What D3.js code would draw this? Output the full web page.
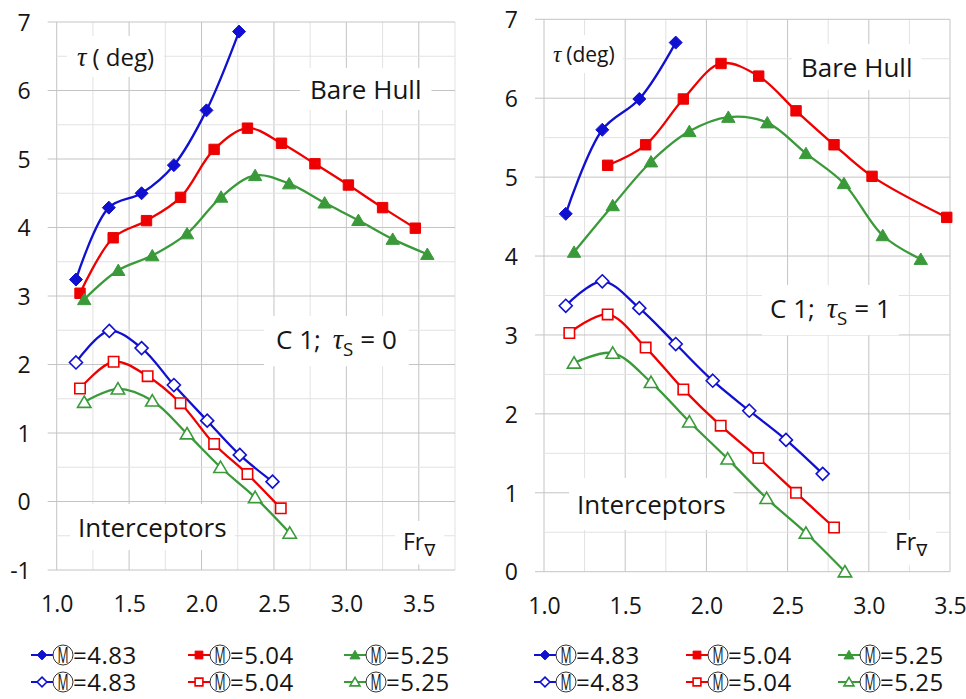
<!DOCTYPE html>
<html><head><meta charset="utf-8">
<script src="https://cdn.jsdelivr.net/npm/d3@7"></script>
<style>
html,body{margin:0;padding:0;background:#fff;}
svg{display:block;}
text{font-family:"Open Sans",Lato,sans-serif;fill:#151515;}
</style></head>
<body><svg id="c" width="966" height="699"></svg>
<script>
// ---------- data ----------
const machLabels = ["4.83", "5.04", "5.25"];
const xTickValues = [1.0, 1.5, 2.0, 2.5, 3.0, 3.5];
const leftYTicks = [-1, 0, 1, 2, 3, 4, 5, 6, 7];
const rightYTicks = [0, 1, 2, 3, 4, 5, 6, 7];

// Left panel (tau_S = 0)
const L_BH_483 = [[1.133,3.24],[1.36,4.29],[1.586,4.50],[1.809,4.91],[2.034,5.71],[2.259,6.86]];
const L_BH_504 = [[1.161,3.04],[1.39,3.85],[1.62,4.10],[1.855,4.44],[2.087,5.14],[2.317,5.45],[2.552,5.23],[2.783,4.93],[3.014,4.62],[3.25,4.29],[3.476,3.99]];
const L_BH_525 = [[1.19,2.95],[1.425,3.375],[1.66,3.59],[1.90,3.91],[2.135,4.445],[2.37,4.76],[2.605,4.64],[2.85,4.36],[3.083,4.105],[3.32,3.83],[3.559,3.61]];
const L_IN_483 = [[1.133,2.03],[1.363,2.49],[1.586,2.24],[1.809,1.70],[2.039,1.18],[2.264,0.68],[2.49,0.29]];
const L_IN_504 = [[1.161,1.65],[1.393,2.04],[1.628,1.83],[1.855,1.435],[2.087,0.84],[2.317,0.40],[2.547,-0.10]];
const L_IN_525 = [[1.19,1.45],[1.423,1.645],[1.66,1.47],[1.90,0.99],[2.131,0.50],[2.37,0.06],[2.609,-0.46]];

// Right panel (tau_S = 1)
const R_BH_483 = [[1.134,4.535],[1.359,5.60],[1.587,5.99],[1.811,6.705]];
const R_BH_504 = [[1.392,5.15],[1.626,5.41],[1.858,5.99],[2.09,6.44],[2.322,6.28],[2.552,5.84],[2.786,5.41],[3.02,5.01],[3.48,4.49]];
const R_BH_525 = [[1.185,4.05],[1.423,4.64],[1.659,5.195],[1.895,5.58],[2.135,5.76],[2.375,5.69],[2.613,5.30],[2.847,4.92],[3.086,4.26],[3.32,3.96]];
const R_IN_483 = [[1.134,3.37],[1.359,3.68],[1.587,3.34],[1.811,2.885],[2.039,2.42],[2.264,2.04],[2.49,1.67],[2.716,1.24]];
const R_IN_504 = [[1.156,3.025],[1.392,3.26],[1.626,2.84],[1.858,2.31],[2.088,1.85],[2.32,1.44],[2.552,1.00],[2.786,0.56]];
const R_IN_525 = [[1.185,2.645],[1.423,2.77],[1.659,2.40],[1.895,1.90],[2.131,1.43],[2.371,0.93],[2.613,0.49],[2.853,0.00]];

// ---------- styles ----------
const COLORS = ["#1010d0", "#ee0000", "#3a9a3a"];
const SHAPES = ["diamond", "square", "triangle"];

const svg = d3.select("#c");

function markerPath(shape, k) {
  k = k || 1;
  if (shape === "diamond") { const r = 6.5*k; return `M0,${-r}L${r},0L0,${r}L${-r},0Z`; }
  if (shape === "square") { const h = 5.2*k; return `M${-h},${-h}H${h}V${h}H${-h}Z`; }
  const w = 6.7*k, t = 6.2*k, b = 5.2*k;
  return `M0,${-t}L${w},${b}L${-w},${b}Z`;
}

function drawPanel(cfg) {
  const g = svg.append("g");
  const xs = d3.scaleLinear().domain(cfg.xDomain).range(cfg.xRange);
  const ys = d3.scaleLinear().domain(cfg.yDomain).range(cfg.yRange);
  const [x0, x1] = cfg.xRange, [yb, yt] = cfg.yRange;

  // vertical grid every 0.25
  const vx = d3.range(Math.round((cfg.xDomain[1]-cfg.xDomain[0])/0.25)+1).map(i => cfg.xDomain[0] + i*0.25);
  g.append("g").selectAll("line").data(vx).join("line")
    .attr("x1", d => xs(d)).attr("x2", d => xs(d)).attr("y1", yt).attr("y2", yb)
    .attr("stroke", (d,i) => i % 2 === 0 ? "#c4c4c4" : "#e2e2e2").attr("stroke-width", 1);
  // horizontal grid every 0.5
  const hy = d3.range(Math.round((cfg.yDomain[1]-cfg.yDomain[0])/0.5)+1).map(i => cfg.yDomain[0] + i*0.5);
  g.append("g").selectAll("line").data(hy).join("line")
    .attr("x1", (d,i) => i % 2 === 0 ? x0 - 9 : x0).attr("x2", x1)
    .attr("y1", d => ys(d)).attr("y2", d => ys(d))
    .attr("stroke", (d,i) => i % 2 === 0 ? "#c4c4c4" : "#e2e2e2").attr("stroke-width", 1);

  // axes (labels only)
  const yAx = g.append("g").attr("transform", `translate(${x0 - 26},0)`)
    .call(d3.axisLeft(ys).tickValues(cfg.yTicks).tickSize(0).tickFormat(d => String(d)));
  yAx.select(".domain").remove();
  yAx.selectAll("text").attr("font-size", 23).attr("font-family", "Open Sans").attr("fill", "#151515").attr("x", 0).attr("dy", "0.36em");
  const xAx = g.append("g").attr("transform", `translate(0,${yb + 26})`)
    .call(d3.axisBottom(xs).tickValues(xTickValues).tickSize(0).tickFormat(d3.format(".1f")));
  xAx.select(".domain").remove();
  xAx.selectAll("text").attr("font-size", 23).attr("font-family", "Open Sans").attr("fill", "#151515").attr("y", 0).attr("dy", "0.71em");

  // annotations with white boxes
  const ann = g.append("g");
  cfg.annotations.forEach(a => {
    const grp = ann.append("g");
    const t = grp.append("text").attr("x", a.x).attr("y", a.y).attr("font-size", a.size);
    a.parts.forEach(p => {
      const ts = t.append("tspan").text(p.t);
      if (p.serif) ts.attr("font-family", "'Liberation Serif','DejaVu Serif',serif").attr("font-style", "italic").attr("font-size", a.size * 1.1);
      if (p.sub) ts.attr("font-size", a.size * 0.72).attr("dy", a.size * 0.28);
      if (p.up) ts.attr("dy", -a.size * 0.28);
      if (p.dx) ts.attr("dx", p.dx);
      if (p.fam) ts.attr("font-family", p.fam);
    });
    const bb = t.node().getBBox();
    grp.insert("rect", "text").attr("x", bb.x - a.px).attr("y", bb.y - a.py)
      .attr("width", bb.width + 2*a.px).attr("height", bb.height + 2*a.py).attr("fill", "#fff");
  });

  const line = d3.line().x(d => xs(d[0])).y(d => ys(d[1])).curve(d3.curveCatmullRom.alpha(0.5));
  cfg.series.forEach(s => {
    const c = COLORS[s.idx];
    g.append("path").datum(s.data).attr("d", line).attr("fill", "none").attr("stroke", c).attr("stroke-width", 2.3);
    g.append("g").selectAll("path").data(s.data).join("path")
      .attr("transform", d => `translate(${xs(d[0])},${ys(d[1])})`)
      .attr("d", markerPath(SHAPES[s.idx], 1))
      .attr("fill", s.open ? "#fff" : c).attr("stroke", c).attr("stroke-width", s.open ? 1.6 : 1);
  });
}

function ann(x, y, size, parts, px, py) { return {x, y, size, parts, px: px ?? 9, py: py ?? 4}; }

drawPanel({
  xDomain: [1.0, 3.75], xRange: [56.7, 455],
  yDomain: [-1, 7], yRange: [570, 22], yTicks: leftYTicks,
  annotations: [
    ann(77, 66, 24, [{t: "τ", serif: true}, {t: "( deg)", dx: 6}], 10, 4),
    ann(310, 99, 26, [{t: "Bare Hull"}], 10, 3),
    ann(276, 349, 26, [{t: "C 1;"}, {t: "τ", serif: true, dx: 12}, {t: "S", sub: true}, {t: "= 0", up: true, dx: 7}], 12, 5),
    ann(78, 537, 26, [{t: "Interceptors"}], 8, 5),
    ann(403, 550, 23, [{t: "Fr"}, {t: "∇", sub: true, fam: "DejaVu Sans"}], 8, 4)
  ],
  series: [
    {idx: 0, data: L_BH_483}, {idx: 1, data: L_BH_504}, {idx: 2, data: L_BH_525},
    {idx: 0, data: L_IN_483, open: true}, {idx: 1, data: L_IN_504, open: true}, {idx: 2, data: L_IN_525, open: true}
  ]
});

drawPanel({
  xDomain: [1.0, 3.5], xRange: [544, 950],
  yDomain: [0, 7], yRange: [571.7, 19.3], yTicks: rightYTicks,
  annotations: [
    ann(553, 62, 21, [{t: "τ", serif: true}, {t: "(deg)", dx: 5}], 8, 5),
    ann(801, 77, 26, [{t: "Bare Hull"}], 9, 5),
    ann(770, 318, 26, [{t: "C 1;"}, {t: "τ", serif: true, dx: 12}, {t: "S", sub: true}, {t: "= 1", up: true, dx: 7}], 8, 5),
    ann(577, 514, 26, [{t: "Interceptors"}], 8, 8),
    ann(895, 550, 23, [{t: "Fr"}, {t: "∇", sub: true, fam: "DejaVu Sans"}], 8, 5)
  ],
  series: [
    {idx: 0, data: R_BH_483}, {idx: 1, data: R_BH_504}, {idx: 2, data: R_BH_525},
    {idx: 0, data: R_IN_483, open: true}, {idx: 1, data: R_IN_504, open: true}, {idx: 2, data: R_IN_525, open: true}
  ]
});

// ---------- legends ----------
function legend(xStarts, rowYs) {
  const g = svg.append("g");
  rowYs.forEach((ry, row) => {
    xStarts.forEach((x, i) => {
      const c = COLORS[i];
      const e = g.append("g").attr("transform", `translate(${x},${ry})`);
      e.append("line").attr("x1", 0).attr("x2", 22).attr("y1", 0).attr("y2", 0).attr("stroke", c).attr("stroke-width", 2);
      e.append("path").attr("transform", "translate(11,0)").attr("d", markerPath(SHAPES[i], 0.75))
        .attr("fill", row === 1 ? "#fff" : c).attr("stroke", c).attr("stroke-width", row === 1 ? 1.6 : 1);
      e.append("circle").attr("cx", 32).attr("cy", 0).attr("r", 10).attr("fill", "#fff").attr("stroke", "#333").attr("stroke-width", 1);
      e.append("text").attr("transform", "translate(32,0) scale(0.56,1)").attr("text-anchor", "middle").attr("dy", "0.36em")
        .attr("font-size", 22).text("M");
      e.append("text").attr("x", 42).attr("y", 0).attr("dy", "0.36em").attr("font-size", 24).attr("letter-spacing", 0.5)
        .text("=" + machLabels[i]);
    });
  });
}
legend([31, 188, 344], [655, 682]);
legend([534, 686, 838], [655, 682]);
</script></body></html>
